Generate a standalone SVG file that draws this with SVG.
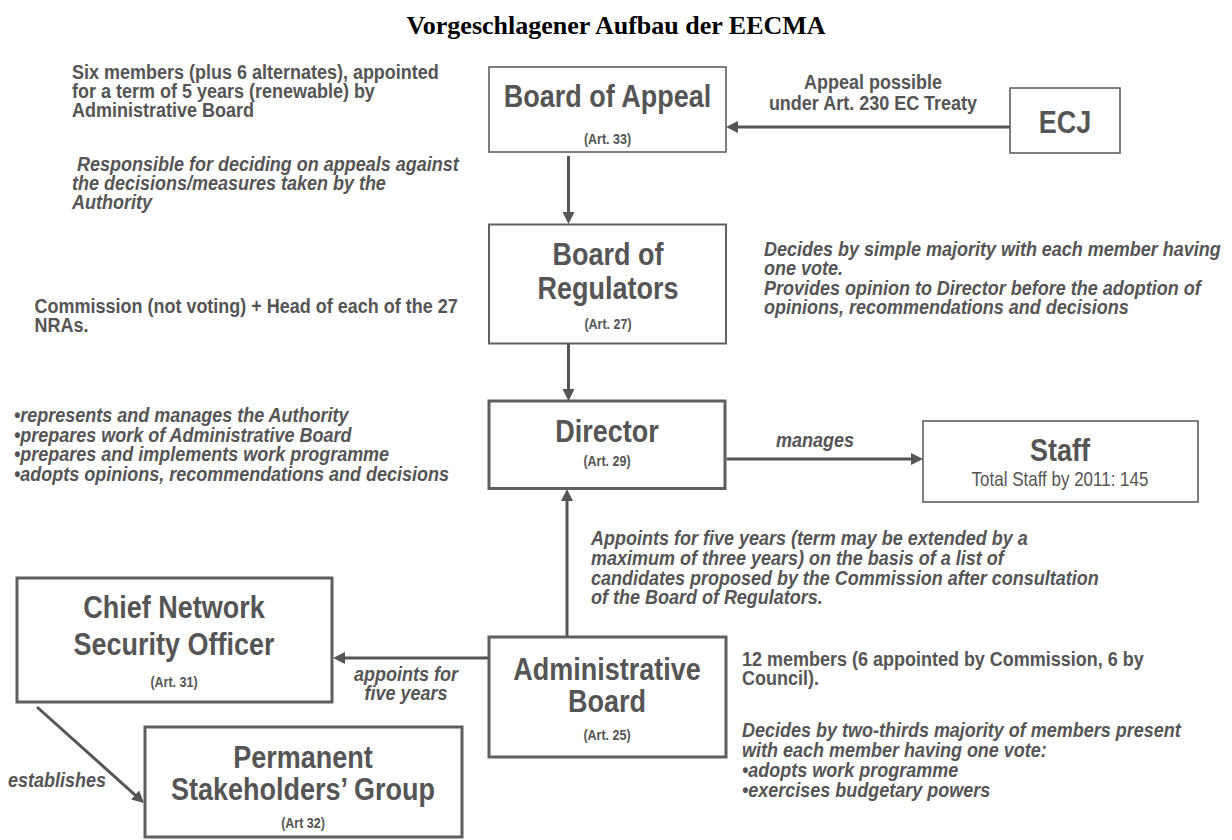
<svg xmlns="http://www.w3.org/2000/svg" width="1232" height="840" viewBox="0 0 1232 840">
<style>
text{font-family:"Liberation Sans",Arial,sans-serif;fill:#555}
.title{font-family:"Liberation Serif","Times New Roman",serif;font-weight:bold;font-size:26px;fill:#000;text-anchor:middle}
.big{font-weight:bold;font-size:27px;text-anchor:middle}
.art{font-weight:bold;font-size:12.5px;text-anchor:middle}
.note{font-weight:bold;font-size:18px}
.it{font-style:italic}
.mid{text-anchor:middle}
.box{fill:#fff;stroke:#5f5f5f}
.thin{stroke-width:1.6}
.thick{stroke-width:3}
.conn line{stroke:#555;stroke-width:3;marker-end:url(#ah)}
</style>
<defs>
<marker id="ah" viewBox="0 0 12 12" refX="2" refY="6" markerWidth="12" markerHeight="12" markerUnits="userSpaceOnUse" orient="auto"><path d="M0,0 L12,6 L0,12 Z" fill="#555"/></marker>
</defs>
<rect width="1232" height="840" fill="#fff"/>
<g id="title"><text class="title" x="616" y="34">Vorgeschlagener Aufbau der EECMA</text></g>

<g id="connectors" class="conn">
<line x1="1010" y1="127" x2="736" y2="127"/>
<line x1="568.5" y1="156" x2="568.5" y2="214"/>
<line x1="568.5" y1="344" x2="568.5" y2="391"/>
<line x1="726.5" y1="459" x2="913" y2="459"/>
<line x1="567" y1="637" x2="567" y2="499"/>
<line x1="489" y1="658" x2="343" y2="658"/>
<line x1="37" y1="707" x2="136.6" y2="796.3"/>
</g>

<g id="board-of-appeal">
<rect class="box thin" x="489" y="67" width="237" height="85"/>
<text class="big" transform="matrix(1 0 0 1.18 607.5 107)">Board of Appeal</text>
<text class="art" transform="matrix(1 0 0 1.18 607.5 144)">(Art. 33)</text>
</g>
<g id="ecj">
<rect class="box thin" x="1010" y="88" width="110" height="65"/>
<text class="big" transform="matrix(1 0 0 1.18 1065 133)">ECJ</text>
</g>
<g id="board-of-regulators">
<rect class="box" stroke-width="2" x="489" y="224.5" width="237" height="119"/>
<text class="big" transform="matrix(1 0 0 1.18 608 265)">Board of</text>
<text class="big" transform="matrix(1 0 0 1.18 608 299)">Regulators</text>
<text class="art" transform="matrix(1 0 0 1.18 608 329)">(Art. 27)</text>
</g>
<g id="director">
<rect class="box thick" x="489" y="401" width="236" height="87.5"/>
<text class="big" transform="matrix(1 0 0 1.18 607 442)">Director</text>
<text class="art" transform="matrix(1 0 0 1.18 607 466)">(Art. 29)</text>
</g>
<g id="staff">
<rect class="box thin" x="923" y="421" width="275" height="81"/>
<text class="big" font-size="26" transform="matrix(1 0 0 1.18 1060 461)">Staff</text>
<text class="mid" font-size="17" transform="matrix(1 0 0 1.18 1060 486)">Total Staff by 2011: 145</text>
</g>
<g id="administrative-board">
<rect class="box thick" x="489" y="637" width="237" height="120"/>
<text class="big" transform="matrix(1 0 0 1.18 607 680)">Administrative</text>
<text class="big" transform="matrix(1 0 0 1.18 607 712)">Board</text>
<text class="art" transform="matrix(1 0 0 1.18 607 740)">(Art. 25)</text>
</g>
<g id="chief-network-security-officer">
<rect class="box thick" x="17" y="578" width="315" height="124"/>
<text class="big" transform="matrix(1 0 0 1.18 174 618)">Chief Network</text>
<text class="big" transform="matrix(1 0 0 1.18 174 655)">Security Officer</text>
<text class="art" transform="matrix(1 0 0 1.18 174 687)">(Art. 31)</text>
</g>
<g id="permanent-stakeholders-group">
<rect class="box thick" x="145" y="727" width="317" height="110"/>
<text class="big" transform="matrix(1 0 0 1.18 303 768)">Permanent</text>
<text class="big" transform="matrix(1 0 0 1.18 303 800)">Stakeholders’ Group</text>
<text class="art" transform="matrix(1 0 0 1.18 303 828)">(Art 32)</text>
</g>

<g id="connector-labels">
<text class="note mid" transform="matrix(1 0 0 1.1 873 89)"><tspan x="0">Appeal possible</tspan><tspan x="0" dy="19.1">under Art. 230 EC Treaty</tspan></text>
<text class="note it mid" transform="matrix(1 0 0 1.1 815 447)">manages</text>
<text class="note it" transform="matrix(1 0 0 1.1 591 545)"><tspan x="0">Appoints for five years (term may be extended by a</tspan><tspan x="0" dy="18">maximum of three years) on the basis of a list of</tspan><tspan x="0" dy="18">candidates proposed by the Commission after consultation</tspan><tspan x="0" dy="18">of the Board of Regulators.</tspan></text>
<text class="note it mid" transform="matrix(1 0 0 1.1 406 681)"><tspan x="0">appoints for</tspan><tspan x="0" dy="17.6">five years</tspan></text>
<text class="note it mid" transform="matrix(1 0 0 1.1 57 787)">establishes</text>
</g>

<g id="annotations">
<text class="note" transform="matrix(1 0 0 1.1 72 79)"><tspan x="0">Six members (plus 6 alternates), appointed</tspan><tspan x="0" dy="17.3">for a term of 5 years (renewable) by</tspan><tspan x="0" dy="17.3">Administrative Board</tspan></text>
<text class="note it" transform="matrix(1 0 0 1.1 72 171)"><tspan x="5">Responsible for deciding on appeals against</tspan><tspan x="0" dy="17.3">the decisions/measures taken by the</tspan><tspan x="0" dy="17.3">Authority</tspan></text>
<text class="note" transform="matrix(1 0 0 1.1 34.5 313)"><tspan x="0">Commission (not voting) + Head of each of the 27</tspan><tspan x="0" dy="17.5">NRAs.</tspan></text>
<text class="note it" transform="matrix(1 0 0 1.1 764 256)"><tspan x="0">Decides by simple majority with each member having</tspan><tspan x="0" dy="17.6">one vote.</tspan><tspan x="0" dy="17.6">Provides opinion to Director before the adoption of</tspan><tspan x="0" dy="17.6">opinions, recommendations and decisions</tspan></text>
<text class="note it" transform="matrix(1 0 0 1.1 14 422)"><tspan x="0">•represents and manages the Authority</tspan><tspan x="0" dy="17.9">•prepares work of Administrative Board</tspan><tspan x="0" dy="17.9">•prepares and implements work programme</tspan><tspan x="0" dy="17.9">•adopts opinions, recommendations and decisions</tspan></text>
<text class="note" transform="matrix(1 0 0 1.1 742 666)"><tspan x="0">12 members (6 appointed by Commission, 6 by</tspan><tspan x="0" dy="17.6">Council).</tspan></text>
<text class="note it" transform="matrix(1 0 0 1.1 742 737)"><tspan x="0">Decides by two-thirds majority of members present</tspan><tspan x="0" dy="18.2">with each member having one vote:</tspan><tspan x="0" dy="18.2">•adopts work programme</tspan><tspan x="0" dy="18.2">•exercises budgetary powers</tspan></text>
</g>
</svg>
